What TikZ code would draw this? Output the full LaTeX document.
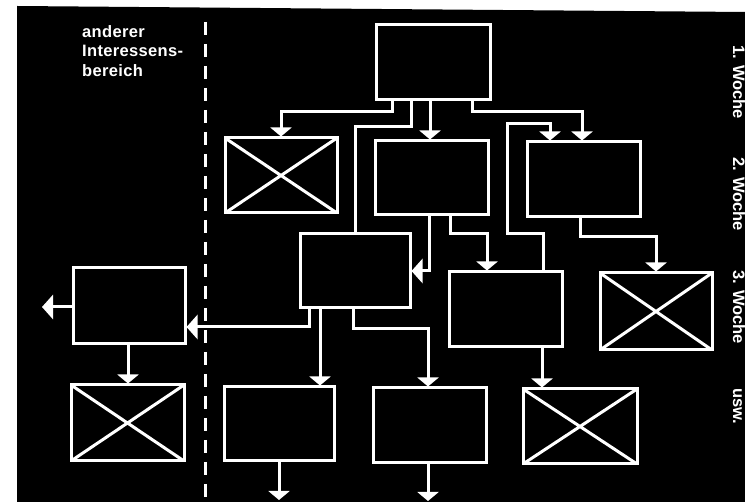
\documentclass[tikz,border=0pt]{standalone}
\usepackage{fontspec}
\setmainfont{Liberation Sans}
\newfontfamily\spacedsans[LetterSpace=2]{Liberation Sans}
\usetikzlibrary{arrows.meta}
\begin{document}
\begin{tikzpicture}[x=1pt,y=-1pt,
  box/.style={draw=white, line width=3pt, minimum width=113pt, minimum height=75pt, inner sep=0pt},
  xbox/.style={box, path picture={\draw[white,line width=3pt]
      (path picture bounding box.north west) -- (path picture bounding box.south east)
      (path picture bounding box.south west) -- (path picture bounding box.north east);}},
  conn/.style={draw=white, line width=3pt},
  arr/.style={conn, -{Triangle[width=21pt,length=9pt]}},
  bigarr/.style={conn, -{Triangle[width=24pt,length=11pt]}},
  lbl/.style={text=white, inner sep=0pt, font=\spacedsans\bfseries\fontsize{16.5}{19.5}\selectfont},
  wlbl/.style={text=white, inner sep=0pt, rotate=-90, anchor=base west, font=\bfseries\fontsize{16.5}{20}\selectfont}
]
\useasboundingbox (0,0) rectangle (745,502);
\fill[white] (0,0) rectangle (745,502);
\fill[black] (17,6) -- (745,12) -- (745,502) -- (17,502) -- cycle;

% dashed border of the other area
\draw[white, line width=3pt, dash pattern=on 13pt off 9pt] (205,22) -- (205,502);

% boxes
\node[box, minimum width=114pt] (A) at (433,62.5) {};
\node[xbox, minimum width=112pt] (B) at (281,175.5) {};
\node[box, minimum height=74pt] (C) at (431.5,178) {};
\node[box] (D) at (583.5,179.5) {};
\node[box, minimum width=110pt, minimum height=74pt] (E) at (355,271) {};
\node[box] (F) at (505.5,309.5) {};
\node[xbox, minimum width=112pt, minimum height=77pt] (G) at (656,311.5) {};
\node[box, minimum width=112pt, minimum height=76pt] (H) at (129,306) {};
\node[xbox, minimum height=76pt] (I) at (127.5,423) {};
\node[box, minimum width=110pt, minimum height=74pt] (J) at (279,424) {};
\node[box] (K) at (429.5,425.5) {};
\node[xbox, minimum width=114pt] (L) at (580,426.5) {};

% connectors
\draw[arr] (392,0 |- A.south) -- ++(0,10) -| (B.north);
\draw[conn] (411,0 |- A.south) -- ++(0,25) -| (E.north);
\draw[arr] (430,0 |- A.south) -- (430,0 |- C.north);
\draw[arr] (472,0 |- A.south) -- ++(0,10) -| (582,0 |- D.north);
\draw[arr] (543,0 |- F.north) -- ++(0,-37) -- ++(-36,0) -- ++(0,-110) -| (550,0 |- D.north);
\draw[bigarr] (429,0 |- C.south) |- (E.east);
\draw[arr] (450,0 |- C.south) -- ++(0,17) -| (487,0 |- F.north);
\draw[arr] (580,0 |- D.south) -- ++(0,18) -| (G.north);
\draw[bigarr] (309,0 |- E.south) |- ([yshift=-21pt]H.east);
\draw[arr] (320,0 |- E.south) -- (320,0 |- J.north);
\draw[arr] (353,0 |- E.south) -- ++(0,19) -| (428,0 |- K.north);
\draw[arr] (542,0 |- F.south) -- (542,0 |- L.north);
\draw[arr] (128,0 |- H.south) -- (128,0 |- I.north);
\coordinate (hout) at (42,307);
\draw[bigarr] (H.west |- hout) -- (hout);
\coordinate (jout) at (279,500);
\draw[arr] (279,0 |- J.south) -- (jout);
\coordinate (kout) at (428,501);
\draw[arr] (428,0 |- K.south) -- (kout);

% texts
\node[lbl, anchor=north west, align=left] (area) at (82,25) {anderer\\Interessens-\\bereich};
\node[wlbl] (w1) at (733,45) {1. Woche};
\node[wlbl] (w2) at (733,157) {2. Woche};
\node[wlbl] (w3) at (733,270) {3. Woche};
\node[wlbl] (w4) at (733,388) {usw.};
\end{tikzpicture}
\end{document}
